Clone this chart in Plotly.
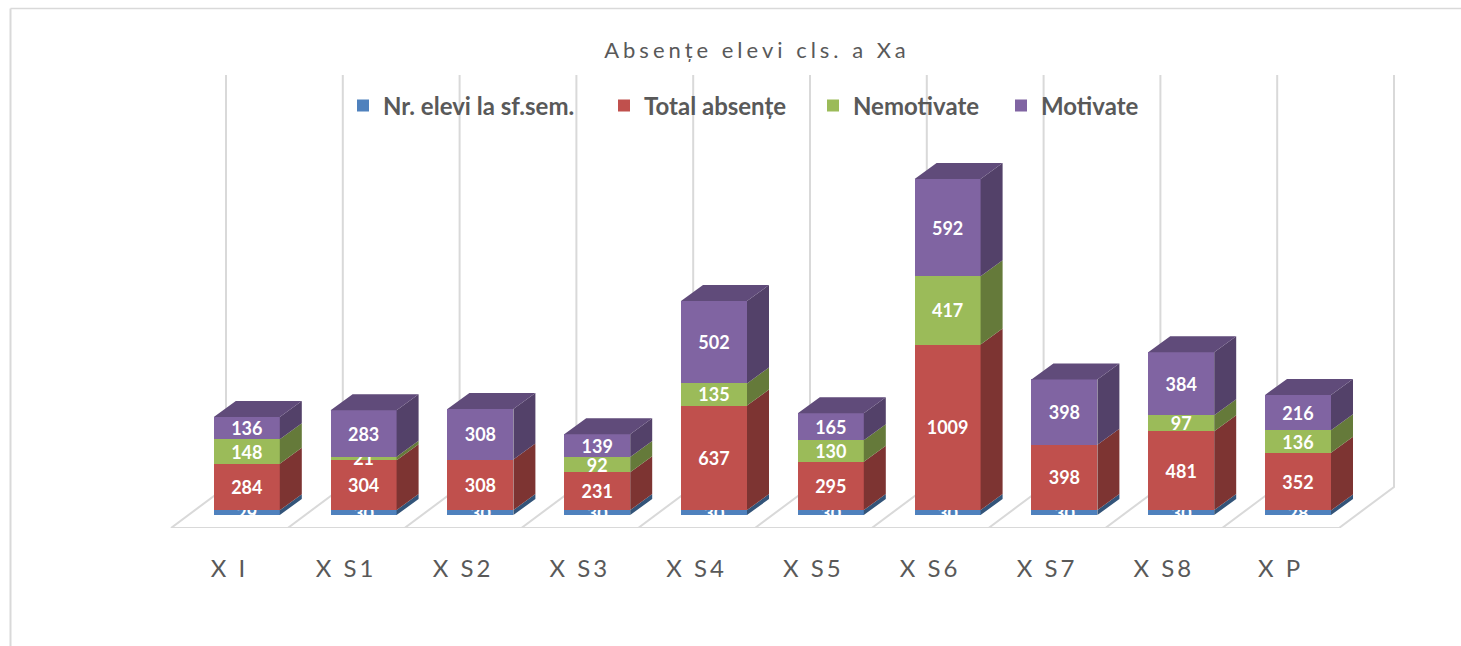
import plotly.graph_objects as go

# ---- data ----
categories = ["X I", "X S1", "X S2", "X S3", "X S4", "X S5", "X S6", "X S7", "X S8", "X P"]
nr_elevi = [29, 30, 30, 30, 30, 30, 30, 30, 30, 28]
total_absente = [284, 304, 308, 231, 637, 295, 1009, 398, 481, 352]
nemotivate = [148, 21, 0, 92, 135, 130, 417, 0, 97, 136]
motivate = [136, 283, 308, 139, 502, 165, 592, 398, 384, 216]
series_names = ["Nr. elevi la sf.sem.", "Total absențe", "Nemotivate", "Motivate"]

front_colors = ["#4F81BD", "#C0504D", "#9BBB59", "#8064A2"]
side_colors = ["#335479", "#7D3432", "#657A3A", "#534169"]
top_color = "#604B7A"
grid_color = "#D9D9D9"
text_color = "#595959"

# ---- layout geometry (page pixels) ----
W, H = 1461, 646
STEP = 116.8            # px per category
PX_PER_UNIT = 0.16406   # px per data unit
BASE_Y = 515            # page y of bar bases
FLOOR_Y = 528           # page y of floor front edge
FLOOR_X0 = 229.4        # page x of first category on the floor front edge
BAR_X0 = 246.8          # page x of first bar centre
WALL_TOP = 75
BAR_W = 66 / STEP
DX = 22 / STEP
DY = 16 / PX_PER_UNIT
FLOOR_DX = 55 / STEP
FLOOR_DY = 41 / PX_PER_UNIT
LEGEND_TEXT_X = [383, 644, 853, 1041]

n = len(categories)
idx = list(range(n))
series = [nr_elevi, total_absente, nemotivate, motivate]

fig = go.Figure()

# floor and back-wall lines, on the base axes
floor_front = (BASE_Y - FLOOR_Y) / PX_PER_UNIT
wall_top = (BASE_Y - WALL_TOP) / PX_PER_UNIT
gx, gy = [-0.5, n - 0.5, None], [floor_front, floor_front, None]
for k in range(n + 1):
    x_front = k - 0.5
    gx += [x_front, x_front + FLOOR_DX, x_front + FLOOR_DX, None]
    gy += [floor_front, floor_front + FLOOR_DY, wall_top, None]
fig.add_trace(go.Scatter(x=gx, y=gy, mode="lines", line=dict(color=grid_color, width=2),
                         hoverinfo="skip", showlegend=False, cliponaxis=False,
                         xaxis="x", yaxis="y"))

# front faces with their labels
legend_ids = ["legend", "legend2", "legend3", "legend4"]
for name, vals, col, lg in zip(series_names, series, front_colors, legend_ids):
    fig.add_trace(go.Bar(
        x=idx, y=vals, name=name, width=BAR_W,
        marker=dict(color=col, line=dict(width=0)),
        text=[str(v) for v in vals], textposition="inside", textangle=0,
        insidetextanchor="middle", constraintext="none", cliponaxis=True,
        textfont=dict(family="Lato", size=18, color="white", weight="bold"),
        hoverinfo="skip", legend=lg, xaxis="x2", yaxis="y2"))

# side faces and top faces, derived from the same values
stack = [0] * n
for vals, side in zip(series, side_colors):
    sx, sy = [], []
    for i in idx:
        right = i + BAR_W / 2
        lo, hi = stack[i], stack[i] + vals[i]
        sx += [right, right + DX, right + DX, right, None]
        sy += [lo, lo + DY, hi + DY, hi, None]
        stack[i] = hi
    fig.add_trace(go.Scatter(x=sx, y=sy, mode="lines", fill="toself", fillcolor=side,
                             line=dict(width=0, color=side), hoverinfo="skip",
                             showlegend=False, xaxis="x2", yaxis="y2"))
tx, ty = [], []
for i in idx:
    l, r = i - BAR_W / 2, i + BAR_W / 2
    tx += [l, r, r + DX, l + DX, None]
    ty += [stack[i], stack[i], stack[i] + DY, stack[i] + DY, None]
fig.add_trace(go.Scatter(x=tx, y=ty, mode="lines", fill="toself", fillcolor=top_color,
                         line=dict(width=0, color=top_color), hoverinfo="skip",
                         showlegend=False, xaxis="x2", yaxis="y2"))

layout = dict(
    width=W, height=H, autosize=False,
    margin=dict(l=0, r=0, t=0, b=0, pad=0),
    paper_bgcolor="white", plot_bgcolor="rgba(0,0,0,0)",
    barmode="stack", hovermode=False,
    title=dict(text="Absențe elevi cls. a Xa", x=757 / W, xref="paper", xanchor="center",
               y=1 - 50 / H, yref="paper", yanchor="middle",
               font=dict(family="Lato", size=22, color=text_color)),
    xaxis=dict(range=[(0 - FLOOR_X0) / STEP, (W - FLOOR_X0) / STEP], domain=[0, 1], anchor="y",
               tickmode="array", tickvals=idx, ticktext=categories, ticks="",
               showgrid=False, zeroline=False, showline=False, ticklabelstandoff=24,
               tickfont=dict(family="Lato", size=24, color=text_color)),
    yaxis=dict(range=[(BASE_Y - FLOOR_Y) / PX_PER_UNIT, BASE_Y / PX_PER_UNIT],
               domain=[(H - FLOOR_Y) / H, 1], anchor="x", visible=False),
    xaxis2=dict(range=[(0 - BAR_X0) / STEP, (W - BAR_X0) / STEP], domain=[0, 1], anchor="y2",
                visible=False),
    yaxis2=dict(range=[0, BASE_Y / PX_PER_UNIT], domain=[(H - BASE_Y) / H, 1], anchor="x2",
                visible=False),
    shapes=[
        dict(type="line", xref="paper", yref="paper", x0=10.5 / W, x1=1, y0=1 - 8.5 / H, y1=1 - 8.5 / H,
             line=dict(color=grid_color, width=1.5)),
        dict(type="line", xref="paper", yref="paper", x0=10.5 / W, x1=10.5 / W, y0=0, y1=1 - 8.5 / H,
             line=dict(color=grid_color, width=2)),
    ],
)
for lg, tx_px in zip(legend_ids, LEGEND_TEXT_X):
    layout[lg] = dict(x=(tx_px - 34) / W, y=1 - 106 / H, xanchor="left", yanchor="middle",
                      xref="paper", yref="paper", bgcolor="rgba(0,0,0,0)", borderwidth=0,
                      indentation=-6,
                      font=dict(family="Lato", size=24, color=text_color, weight="bold"))
fig.update_layout(**layout)

post = """
document.body.style.margin = '0';
document.querySelectorAll('.gtitle').forEach(function (e) { e.style.letterSpacing = '4px'; });
document.querySelectorAll('.xtick text').forEach(function (e) { e.style.letterSpacing = '3px'; });
"""
fig.write_html("out.html", post_script=post, config=dict(displayModeBar=False))
